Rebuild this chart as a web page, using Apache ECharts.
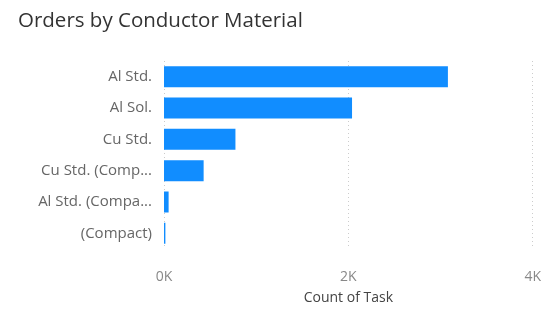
<!DOCTYPE html>
<html>
<head>
<meta charset="utf-8">
<script src="https://cdn.jsdelivr.net/npm/echarts@6/dist/echarts.min.js"></script>
<style>
  html, body { margin: 0; padding: 0; background: #fff; }
  #chart { width: 544px; height: 310px; }
</style>
</head>
<body>
<div id="chart"></div>
<script>
const categories = ['Al Std.', 'Al Sol.', 'Cu Std.', 'Cu Std. (Compact)', 'Al Std. (Compact)', '(Compact)']
const taskCounts = [3080, 2040, 775, 430, 50, 15]
const tickLabels = { 0: '0K', 2000: '2K', 4000: '4K' }

const chart = echarts.init(document.getElementById('chart'))

const option = {
  animation: false,
  title: {
    text: 'Orders by Conductor Material',
    left: 13,
    top: 6,
    textStyle: { fontFamily: 'Open Sans', fontSize: 20.5, fontWeight: 'normal', color: '#333' }
  },
  grid: { left: 164, right: 9, top: 61, bottom: 57 },
  xAxis: {
    type: 'value',
    min: 0,
    max: 4000,
    interval: 2000,
    name: 'Count of Task',
    nameLocation: 'middle',
    nameGap: 42,
    nameTextStyle: { fontFamily: 'Open Sans', fontSize: 14, color: '#444' },
    axisLine: { show: false },
    axisTick: { show: false },
    axisLabel: {
      margin: 21,
      fontFamily: 'Open Sans',
      fontSize: 14,
      color: '#888',
      formatter: v => tickLabels[v]
    },
    splitLine: { lineStyle: { type: [1, 3], color: '#ccc' } }
  },
  yAxis: {
    type: 'category',
    inverse: true,
    data: categories,
    axisLine: { show: false },
    axisTick: { show: false },
    axisLabel: {
      margin: 12,
      fontFamily: 'Open Sans',
      fontSize: 15,
      color: '#666',
      width: 116,
      overflow: 'truncate',
      ellipsis: '...'
    }
  },
  series: [
    {
      type: 'bar',
      data: taskCounts,
      barWidth: 21,
      itemStyle: { color: '#118DFF' }
    }
  ]
}

chart.setOption(option)
</script>
</body>
</html>
